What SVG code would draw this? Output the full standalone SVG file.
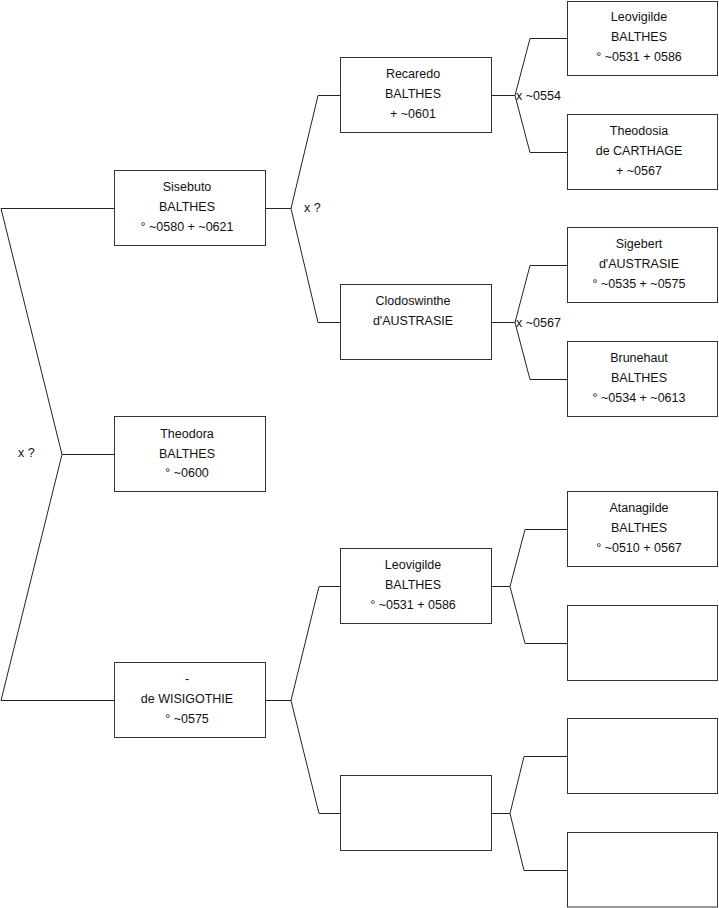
<svg xmlns="http://www.w3.org/2000/svg" width="719" height="908" viewBox="0 0 719 908">
<style>
.box{fill:#fff;stroke:#333;stroke-width:1}
.con{fill:none;stroke:#222;stroke-width:1}
text{font-family:"Liberation Sans",Arial,sans-serif;font-size:12.5px;fill:#111}
.c{text-anchor:middle}
</style>
<rect width="719" height="908" fill="#fff"/>
<g id="connectors">
<path class="con" d="M114.5,208.5 H1 L62,454.5 L1,700.5 H114.5 M62,454.5 H114.5"/>
<path class="con" d="M265.5,208.5 H291 M340.5,95.5 H318 L291,208.5 L318,322.5 H340.5"/>
<path class="con" d="M491.5,95.5 H515 M567.5,38.5 H530 L515,95.5 L530,152.5 H567.5"/>
<path class="con" d="M491.5,322.5 H515 M567.5,265.5 H530 L515,322.5 L530,379.5 H567.5"/>
<path class="con" d="M265.5,700.5 H291 M340.5,586.5 H319 L291,700.5 L319,813.5 H340.5"/>
<path class="con" d="M491.5,586.5 H510 M567.5,529.5 H525 L510,586.5 L525,643.5 H567.5"/>
<path class="con" d="M491.5,813.5 H510 M567.5,756.5 H524 L510,813.5 L524,870.5 H567.5"/>
<text x="18" y="457">x ?</text>
<text x="304" y="212">x ?</text>
<text x="516" y="99.5">x ~0554</text>
<text x="516" y="326.5">x ~0567</text>
</g>
<g id="sisebuto">
<rect class="box" x="114.5" y="170.5" width="151" height="75"/>
<text class="c" x="187" y="191">Sisebuto</text>
<text class="c" x="187" y="211">BALTHES</text>
<text class="c" x="187" y="231">° ~0580 + ~0621</text>
</g>
<g id="theodora">
<rect class="box" x="114.5" y="416.5" width="151" height="75"/>
<text class="c" x="187" y="437.5">Theodora</text>
<text class="c" x="187" y="457.5">BALTHES</text>
<text class="c" x="187" y="477">° ~0600</text>
</g>
<g id="wisigothie">
<rect class="box" x="114.5" y="662.5" width="151" height="75"/>
<text class="c" x="187" y="683">-</text>
<text class="c" x="187" y="702.5">de WISIGOTHIE</text>
<text class="c" x="187" y="722.5">° ~0575</text>
</g>
<g id="recaredo">
<rect class="box" x="340.5" y="57.5" width="151" height="75"/>
<text class="c" x="413" y="78">Recaredo</text>
<text class="c" x="413" y="98">BALTHES</text>
<text class="c" x="413" y="118">+ ~0601</text>
</g>
<g id="clodoswinthe">
<rect class="box" x="340.5" y="284.5" width="151" height="75"/>
<text class="c" x="413" y="304.5">Clodoswinthe</text>
<text class="c" x="413" y="324.5">d'AUSTRASIE</text>
</g>
<g id="leovigilde2">
<rect class="box" x="340.5" y="548.5" width="151" height="75"/>
<text class="c" x="413" y="569">Leovigilde</text>
<text class="c" x="413" y="589">BALTHES</text>
<text class="c" x="413" y="609">° ~0531 + 0586</text>
</g>
<g id="empty2">
<rect class="box" x="340.5" y="775.5" width="151" height="75"/>
</g>
<g id="leovigilde">
<rect class="box" x="567.5" y="1.5" width="150" height="74"/>
<text class="c" x="639" y="21">Leovigilde</text>
<text class="c" x="639" y="41">BALTHES</text>
<text class="c" x="639" y="61">° ~0531 + 0586</text>
</g>
<g id="theodosia">
<rect class="box" x="567.5" y="114.5" width="150" height="75"/>
<text class="c" x="639" y="134.5">Theodosia</text>
<text class="c" x="639" y="154.5">de CARTHAGE</text>
<text class="c" x="639" y="174.5">+ ~0567</text>
</g>
<g id="sigebert">
<rect class="box" x="567.5" y="227.5" width="150" height="75"/>
<text class="c" x="639" y="248">Sigebert</text>
<text class="c" x="639" y="268">d'AUSTRASIE</text>
<text class="c" x="639" y="288">° ~0535 + ~0575</text>
</g>
<g id="brunehaut">
<rect class="box" x="567.5" y="341.5" width="150" height="75"/>
<text class="c" x="639" y="361.5">Brunehaut</text>
<text class="c" x="639" y="381.5">BALTHES</text>
<text class="c" x="639" y="401.5">° ~0534 + ~0613</text>
</g>
<g id="atanagilde">
<rect class="box" x="567.5" y="491.5" width="150" height="75"/>
<text class="c" x="639" y="511.5">Atanagilde</text>
<text class="c" x="639" y="531.5">BALTHES</text>
<text class="c" x="639" y="551.5">° ~0510 + 0567</text>
</g>
<g id="empty3a">
<rect class="box" x="567.5" y="605.5" width="150" height="75"/>
</g>
<g id="empty3b">
<rect class="box" x="567.5" y="718.5" width="150" height="75"/>
</g>
<g id="empty3c">
<rect class="box" x="567.5" y="832.5" width="150" height="74.5"/>
</g>
</svg>
